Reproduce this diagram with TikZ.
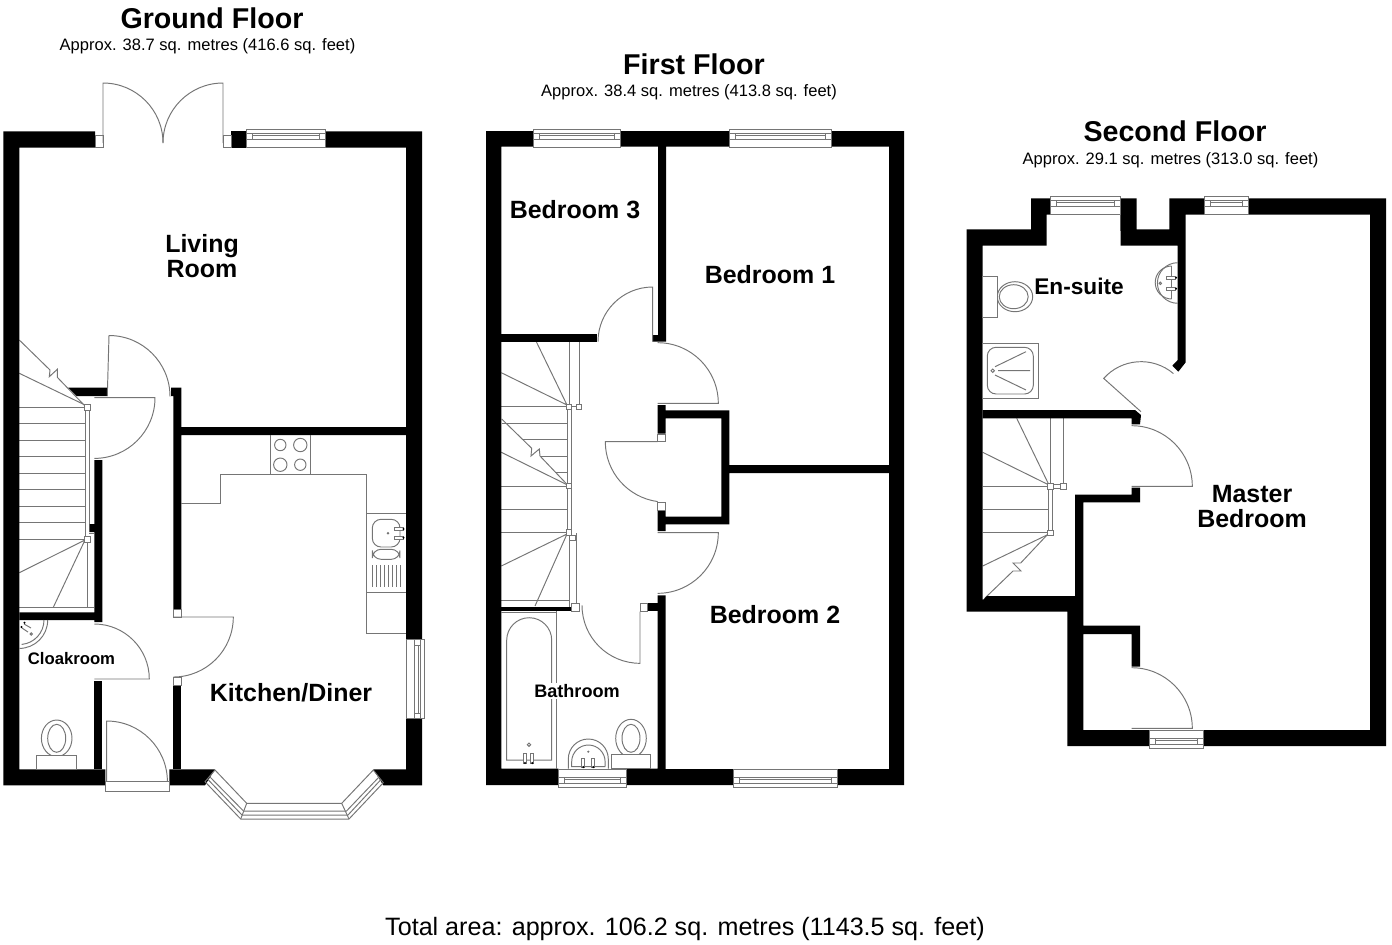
\documentclass[tikz,border=0pt]{standalone}
\usepackage{fontspec}
\setmainfont{Liberation Sans}
\usetikzlibrary{calc}
\tikzset{
    wall/.style={fill=black,draw=none},
    fixture/.style={draw=black!54,line width=0.55pt},
    tap/.style={draw=black!54,line width=0.55pt,fill=white},
    floortitle/.style={font=\fontsize{16.3}{16}\selectfont\bfseries,inner sep=0pt},
    floorarea/.style={font=\fontsize{9.4}{10}\selectfont,inner sep=0pt},
    bigroom/.style={font=\fontsize{14.2}{14.2}\selectfont\bfseries,align=center,inner sep=0pt},
    smallroom/.style={font=\fontsize{9.5}{10}\selectfont\bfseries,inner sep=0pt},
}
\begin{document}
\begin{tikzpicture}[x=0.02cm,y=-0.02cm]
    \useasboundingbox (0,0) rectangle (1392,944);

    %ground floor stairs
    \foreach \y in {407.3,423.7,440.3,456.7,473.3,489.7,506.3,522.7,539.3}
        \draw[fixture] (19.3,\y)--(85.3,\y);
    \draw[fixture] (85.3,407)--(85.3,539) (89.3,407)--(89.3,524) (87.5,540)--(87.5,607.3) (19.3,607.3)--(94.3,607.3);
    \draw[fixture] (89.3,533)--(94.3,533);
    \draw[fixture] (19.3,340)--(50,370)--(49.3,376.7)--(57.3,369.3)--(57.3,377.3)--(85,406);
    \draw[fixture] (19.3,373.3)--(85,405);
    \draw[fixture] (85,540)--(19.3,572.7) (85,540)--(53.3,607.3);
    \draw[fixture,fill=white] (84.5,404.3) rectangle (90.5,410.3);
    \draw[fixture,fill=white] (84.5,536.3) rectangle (90.5,542.3);

    %first floor stairs
    \foreach \y/\xa in {406.7/501.3,423.3/502,439.3/523,456/540,472.7/555,486/501.3,509.3/501.3,532.3/501.3}
        \draw[fixture] (\xa,\y)--(567.3,\y);
    \draw[fixture] (567.3,406)--(567.3,533) (571.3,406)--(571.3,533);
    \draw[fixture] (569,341.7)--(569,406) (579,341.7)--(579,406) (569,406.7)--(579,406.7);
    \draw[fixture] (569,533)--(569,606.7) (576,533)--(576,603) (501.3,600)--(569,600);
    \draw[fixture] (535,339)--(567,405) (501.3,372.7)--(567,405);
    \draw[fixture] (501.7,419)--(531.7,448.3)--(531,456)--(539.3,449)--(540,456)--(566.7,484);
    \draw[fixture] (501.3,452.3)--(567,484.7);
    \draw[fixture] (567,534)--(501.3,566) (567,534)--(535,606);
    \foreach \x/\y in {569/406.7,579/406.7,569/486,569/532.3,572.5/538}
        \draw[fixture,fill=white] ($(\x,\y)+(-2.7,-2.7)$) rectangle ($(\x,\y)+(2.7,2.7)$);

    %second floor stairs
    \foreach \y in {486.3,509.3,532.7}
        \draw[fixture] (982.7,\y)--(1048.3,\y);
    \draw[fixture] (1050.3,418.3)--(1050.3,486) (1063.3,418.3)--(1063.3,486);
    \draw[fixture] (1048.3,486)--(1048.3,532) (1052.7,486)--(1052.7,532);
    \draw[fixture] (1050,484.5)--(1063,484.5) (1050,488)--(1063,488);
    \draw[fixture] (1016.7,418.3)--(1049,485) (982.7,452.3)--(1049,485);
    \draw[fixture] (1049,534)--(982.7,566);
    \draw[fixture] (1047,535)--(1020.7,563)--(1013,563)--(1021,571)--(1013,571)--(985,598);
    \foreach \x/\y in {1050.3/486.3,1063.3/486.3,1050.3/532.7}
        \draw[fixture,fill=white] ($(\x,\y)+(-2.7,-2.7)$) rectangle ($(\x,\y)+(2.7,2.7)$);

    %walls
    \fill[wall] (3.3,131.3)--(95,131.3)--(95,147.7)--(19.3,147.7)--(19.3,769.3)--(105.3,769.3)--(105.3,785.3)--(3.3,785.3)--cycle;
    \fill[wall] (231,131.3)--(246.5,131.3)--(246.5,147.7)--(231,147.7)--cycle;
    \fill[wall] (325.5,131.3)--(422,131.3)--(422,639.3)--(406,639.3)--(406,147.7)--(325.5,147.7)--cycle;
    \fill[wall] (406,718.3)--(422,718.3)--(422,785.3)--(383.3,785.3)--(373.3,769.3)--(406,769.3)--cycle;
    \fill[wall] (169.3,769.3)--(215,769.3)--(205,785.3)--(169.3,785.3)--cycle;
    \fill[wall] (173.3,685)--(181.3,685)--(181.3,769.3)--(173.3,769.3)--cycle;
    \fill[wall] (171,387.7)--(181.3,387.7)--(181.3,427)--(406,427)--(406,435)--(181.3,435)--(181.3,609)--(173.3,609)--(173.3,396)--(171,396)--cycle;
    \fill[wall] (68.3,387.7)--(107.3,387.7)--(107.3,396)--(76.7,396)--cycle;
    \fill[wall] (94.3,460)--(102.3,460)--(102.3,622)--(94.3,622)--(94.3,620)--(19.3,620)--(19.3,612.3)--(94.3,612.3)--(94.3,532)--(89.3,532)--(89.3,524)--(94.3,524)--cycle;
    \fill[wall] (94.3,681)--(102.3,681)--(102.3,769.3)--(94.3,769.3)--cycle;

    \fill[wall] (486,131)--(533,131)--(533,146.7)--(501.3,146.7)--(501.3,768.5)--(558.3,768.5)--(558.3,785)--(486,785)--cycle;
    \fill[wall] (620,131)--(729,131)--(729,146.7)--(666,146.7)--(666,341.7)--(652.7,341.7)--(652.7,335)--(658,335)--(658,146.7)--(620,146.7)--cycle;
    \fill[wall] (831,131)--(904,131)--(904,785)--(837,785)--(837,769)--(889,769)--(889,473)--(729.3,473)--(729.3,524.3)--(665.7,524.3)--(665.7,531)--(657.7,531)--(657.7,510)--(665.7,510)--(665.7,516.7)--(721.3,516.7)--(721.3,418.3)--(665.7,418.3)--(665.7,433.5)--(657.7,433.5)--(657.7,405)--(665.7,405)--(665.7,410.3)--(729.3,410.3)--(729.3,465)--(889,465)--(889,146.7)--(831,146.7)--cycle;
    \fill[wall] (626.7,768.5)--(657.7,768.5)--(657.7,595.3)--(665.7,595.3)--(665.7,769)--(733,769)--(733,785)--(626.7,785)--cycle;
    \fill[wall] (647.7,603.3)--(657.7,603.3)--(657.7,611)--(647.7,611)--cycle;
    \fill[wall] (501.3,333.7)--(596.7,333.7)--(596.7,341.7)--(501.3,341.7)--cycle;
    \fill[wall] (501.3,606.7)--(571.7,606.7)--(571.7,611)--(501.3,611)--cycle;

    \fill[wall] (966.7,229.3)--(1031,229.3)--(1031,198.3)--(1050,198.3)--(1050,214.5)--(1046.7,214.5)--(1046.7,245.7)--(982.7,245.7)--(982.7,600)--(987,596)--(1075,596)--(1075,494.7)--(1131.7,494.7)--(1131.7,487.7)--(1140,487.7)--(1140,502.3)--(1083.3,502.3)--(1083.3,625.7)--(1140,625.7)--(1140,666.7)--(1131.7,666.7)--(1131.7,634)--(1083.3,634)--(1083.3,730)--(1149.3,730)--(1149.3,746)--(1067.3,746)--(1067.3,611.7)--(966.7,611.7)--cycle;
    \fill[wall] (1120,198.3)--(1136.7,198.3)--(1136.7,229.3)--(1169.3,229.3)--(1169.3,198.3)--(1204.3,198.3)--(1204.3,214.7)--(1185.7,214.7)--(1185.7,362.3)--(1178.3,371.7)--(1172.3,365.7)--(1177.7,360)--(1177.7,245.7)--(1120.7,245.7)--cycle;
    \fill[wall] (1248,198.3)--(1386,198.3)--(1386,746)--(1203,746)--(1203,730)--(1370,730)--(1370,214.7)--(1248,214.7)--cycle;
    \fill[wall] (982.7,410)--(1135,410)--(1141,415)--(1140,424.3)--(1131.7,424.3)--(1131.7,418.3)--(982.7,418.3)--cycle;

    %windows, the band lies on the outer side of the wall
    \foreach \xa/\xb/\ya/\off in {246.5/325.5/129/4.3,533/620/129/4.3,729/831/129/4.3,558.3/626.7/769/8.4,733/837/769/8.4,1050/1120/196/4.3,1204.3/1248/196/4.3,1149.3/1203/730/8.4}{
        \draw[fixture] (\xa,\ya) rectangle (\xb,\ya+18.7);
        \draw[fixture] (\xa,\ya+\off)--(\xb,\ya+\off) (\xa,\ya+\off+6)--(\xb,\ya+\off+6);
        \draw[fixture] (\xa+6,\ya+\off)--(\xa+6,\ya+\off+6) (\xb-6,\ya+\off)--(\xb-6,\ya+\off+6);
        \draw[fixture] (\xa+6,\ya+\off+2)--(\xb-6,\ya+\off+2);
    }
    \draw[fixture] (406,639.3) rectangle (424.7,718.3);
    \draw[fixture] (414.3,639.3)--(414.3,718.3) (420.7,639.3)--(420.7,718.3);
    \draw[fixture] (414.3,645)--(420.7,645) (414.3,713)--(420.7,713) (418,645)--(418,713);

    %bay window
    \draw[fixture] (205,781.7)--(240.7,819)--(349,819)--(383.3,782.7)--(373.3,770)--(341.7,803.3)--(246.7,803.3)--(215,770)--cycle;
    \draw[fixture] (240.7,819)--(246.7,803.3) (349,819)--(341.7,803.3);
    \draw[fixture] (209.5,776.5)--(243.5,811)--(346.5,811)--(379,777);
    \draw[fixture] (207.5,779)--(242,815)--(348,815)--(381,779.5);

    %doors and jambs
    \foreach \xa/\ya/\xb/\yb in {95/135.7/103/147.7,223/135.7/231/147.7,173.3/609/181.3/617,173.3/677/181.3/685,657.7/434.3/665.7/441.7,657.7/502.3/665.7/510,640/603.3/647.7/611,571.7/603.3/579.7/611.7}
        \draw[fixture,fill=white] (\xa,\ya) rectangle (\xb,\yb);
    \draw[fixture] (103,143)--(103,83) arc [start angle=-90,end angle=0,radius=60];
    \draw[fixture] (223,143)--(223,83) arc [start angle=-90,end angle=-180,radius=60];
    \draw[fixture] (107.3,396)--(109,335.5) arc [start angle=-90,end angle=0,radius=61];
    \draw[fixture] (94.3,397.7)--(155,397.7) arc [start angle=0,end angle=90,radius=60.7];
    \draw[fixture] (173.3,617)--(233.3,617) arc [start angle=0,end angle=90,radius=60];
    \draw[fixture] (94.3,624) arc [start angle=-90,end angle=0,radius=55]--(94.3,679);
    \draw[fixture] (106.7,781.7)--(106.7,721) arc [start angle=-90,end angle=0,radius=60.7];
    \draw[fixture] (105.3,781.7) rectangle (169.3,791.7);

    \draw[fixture] (652.7,341.7)--(652.7,287) arc [start angle=-90,end angle=-180,radius=54.7];
    \draw[fixture] (657.7,342.7) arc [start angle=-90,end angle=0,radius=60.6]--(657.7,403.3);
    \draw[fixture] (657.7,441.7)--(605.3,441.7) arc [start angle=180,end angle=97.6,radius=60.4];
    \draw[fixture] (657.7,532.7)--(718.3,532.7) arc [start angle=0,end angle=90,radius=60.6];
    \draw[fixture] (640,611.7)--(640,663.3) arc [start angle=90,end angle=180,radius=58];

    \draw[fixture] (1141,411.7)--(1103.7,378.4) arc [start angle=221.7,end angle=310.4,radius=50];
    \draw[fixture] (1131.7,425.7) arc [start angle=-90,end angle=0,radius=60.6]--(1131.7,486.3);
    \draw[fixture] (1131.7,667.7) arc [start angle=-90,end angle=0,radius=60.6]--(1131.7,728.3);

    %kitchen
    \draw[fixture] (181.3,503.3)--(220.7,503.3)--(220.7,474.3)--(366.7,474.3)--(366.7,633.3)--(406,633.3);
    \draw[fixture] (270.7,435)--(270.7,474.3) (310.3,435)--(310.3,474.3);
    \draw[fixture] (280.3,445) circle [radius=5.7] (300.3,445) circle [radius=6.7];
    \draw[fixture] (280.3,464.7) circle [radius=6.7] (300.3,464.7) circle [radius=5.7];
    \draw[fixture] (366.7,513.7)--(406,513.7) (366.7,592.7)--(406,592.7);
    \draw[fixture,rounded corners=5] (372.3,519.3) rectangle (400,547);
    \draw[fixture,rounded corners=5] (372.3,549.3) rectangle (400,559.3);
    \foreach \x in {372.5,376.5,380.5,384.5,388.5,392.5,396.5,400}
        \draw[fixture] (\x,565)--(\x,586.7);
    \draw[tap] (394,527.5) rectangle (403,530.5);
    \draw[tap] (394,536) rectangle (403,539);
    \fill (403.5,529) circle [radius=1.2] (403.5,537.7) circle [radius=1.2];
    \fill[black!55] (388,533.3) circle [radius=1.4];

    %cloakroom fittings
    \draw[fixture] (47.7,620) arc [start angle=0,end angle=90,radius=28.4];
    \draw[fixture] (44,620) arc [start angle=0,end angle=85,radius=24.5];
    \draw[fixture] (24,624)--(31,628) (22,628)--(28,632);
    \fill (24.5,622.7) circle [radius=1.2] (21.5,627) circle [radius=1.2];
    \draw[fixture] (31.3,634) circle [radius=1.2];
    \draw[fixture] (56.7,738.3) ellipse [x radius=15.3,y radius=18.3];
    \draw[fixture] (56.7,738.3) ellipse [x radius=9,y radius=14];
    \draw[fixture,fill=white] (36.7,755) rectangle (76.7,769.3);

    %bathroom fittings
    \draw[fixture] (556.3,611)--(556.3,768.5) (501.3,612.3)--(556.3,612.3);
    \draw[fixture] (506.7,760)--(506.7,640.2) arc [start angle=180,end angle=360,radius=22.5]--(551.7,760)--cycle;
    \draw[fixture] (529,744.7) circle [radius=1.7];
    \draw[tap] (523.5,753.3) rectangle (526.5,763) (530.8,753.3) rectangle (533.8,763);
    \fill (525,763) circle [radius=1.2] (532.3,763) circle [radius=1.2];
    \draw[fixture] (568.3,768.5)--(568.3,759) arc [start angle=180,end angle=360,radius=20]--(608.3,768.5);
    \draw[fixture] (571.7,766.7)--(571.7,761.7) arc [start angle=180,end angle=360,radius=16.7]--(605,766.7)--cycle;
    \draw[tap] (581.8,758.3) rectangle (584.8,767) (591.8,758.3) rectangle (594.8,767);
    \fill (583.3,767) circle [radius=1.2] (593.3,767) circle [radius=1.2];
    \fill[black!55] (588.3,751.7) circle [radius=1.2];
    \draw[fixture] (631,738.3) ellipse [x radius=15.3,y radius=19];
    \draw[fixture] (631,738.3) ellipse [x radius=9,y radius=14];
    \draw[fixture,fill=white] (611,754.3) rectangle (650.7,768.5);

    %en-suite fittings
    \draw[fixture] (1015,296.7) ellipse [x radius=17.7,y radius=15];
    \draw[fixture] (1013.7,296.7) ellipse [x radius=14.5,y radius=12];
    \draw[fixture,fill=white] (982.7,276.7) rectangle (997.3,317);
    \draw[fixture] (1177.7,262.7) arc [start angle=-90,end angle=-270,radius=20.3];
    \draw[fixture] (1171.7,266) arc [start angle=-90,end angle=-270,radius=16.5];
    \draw[fixture] (1171.7,266)--(1171.7,299);
    \draw[tap] (1166.7,276.2) rectangle (1175.5,279.2) (1166.7,287.2) rectangle (1175.5,290.2);
    \fill (1176,277.7) circle [radius=1.2] (1176,288.7) circle [radius=1.2];
    \draw[fixture] (1160.3,283.3) circle [radius=1.2];
    \draw[fixture] (982.7,343) rectangle (1038.3,398.3);
    \draw[fixture,rounded corners=5] (987.3,347.3) rectangle (1033.3,394);
    \draw[fixture] (992.7,370.7) circle [radius=1.7];
    \draw[fixture] (995,366.7)--(1026,351.7) (998,370.7)--(1030,370.7) (995,375)--(1026,390);

    %labels
    \node[floortitle] (groundtitle) at (212,18) {Ground Floor};
    \node[floorarea] (groundarea) at (207.5,46) {Approx. 38.7 sq. metres (416.6 sq. feet)};
    \node[floortitle] (firsttitle) at (694,64) {First Floor};
    \node[floorarea] (firstarea) at (689,92) {Approx. 38.4 sq. metres (413.8 sq. feet)};
    \node[floortitle] (secondtitle) at (1175,131) {Second Floor};
    \node[floorarea] (secondarea) at (1170.5,160) {Approx. 29.1 sq. metres (313.0 sq. feet)};
    \node[bigroom] (living) at (202,256.5) {Living\\Room};
    \node[bigroom] (kitchen) at (291,693) {Kitchen/Diner};
    \node[smallroom] (cloak) at (71.5,659) {Cloakroom};
    \node[bigroom] (bedthree) at (575,210) {Bedroom 3};
    \node[bigroom] (bedone) at (770,275) {Bedroom 1};
    \node[bigroom] (bedtwo) at (775,615) {Bedroom 2};
    \node[smallroom,font=\fontsize{10.3}{11}\selectfont\bfseries,fill=white,inner sep=1pt] (bath) at (577,691) {Bathroom};
    \node[bigroom,font=\fontsize{12.9}{13}\selectfont\bfseries] (ensuite) at (1079,286) {En-suite};
    \node[bigroom] (master) at (1252,506.5) {Master\\Bedroom};
    \node[inner sep=0pt,font=\fontsize{14.3}{15}\selectfont] (total) at (685,929) {Total area: approx. 106.2 sq. metres (1143.5 sq. feet)};
\end{tikzpicture}
\end{document}
